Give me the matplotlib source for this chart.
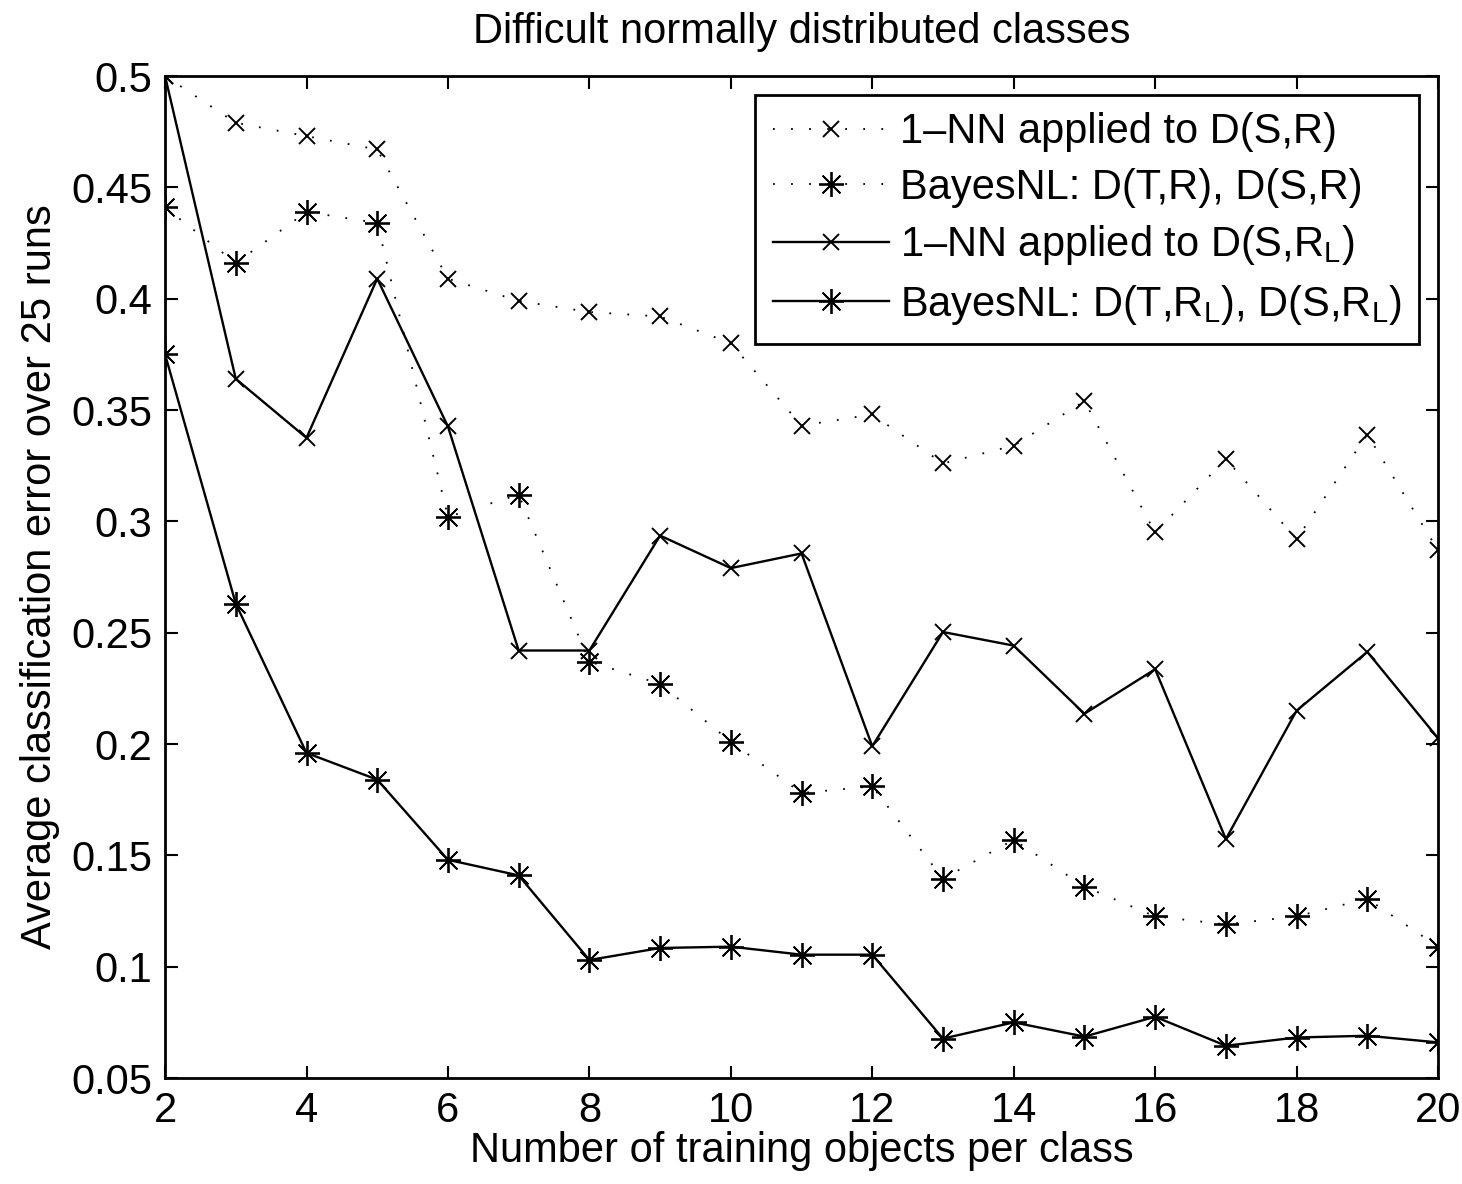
import matplotlib
matplotlib.use("Agg")
import matplotlib.pyplot as plt

# Number of training objects per class
n_train = [2, 3, 4, 5, 6, 7, 8, 9, 10, 11, 12, 13, 14, 15, 16, 17, 18, 19, 20]

# Average classification error over 25 runs
nn_dsr = [0.500, 0.479, 0.473, 0.467, 0.409, 0.399, 0.394, 0.392, 0.380, 0.343,
          0.348, 0.326, 0.334, 0.354, 0.295, 0.328, 0.292, 0.339, 0.287]
bayes_dsr = [0.441, 0.416, 0.439, 0.434, 0.302, 0.312, 0.237, 0.227, 0.201, 0.178,
             0.181, 0.1395, 0.157, 0.136, 0.1226, 0.119, 0.1226, 0.1305, 0.109]
nn_dsrl = [0.500, 0.364, 0.3375, 0.409, 0.3426, 0.242, 0.242, 0.2936, 0.279, 0.2856,
           0.199, 0.2503, 0.2442, 0.2136, 0.2336, 0.1573, 0.215, 0.2414, 0.2026]
bayes_dsrl = [0.375, 0.263, 0.196, 0.184, 0.148, 0.141, 0.103, 0.1084, 0.109, 0.1054,
              0.1054, 0.0677, 0.075, 0.0686, 0.0775, 0.0645, 0.0682, 0.069, 0.066]

labels = [
    "1\u2013NN applied to D(S,R)",
    "BayesNL: D(T,R), D(S,R)",
    "1\u2013NN applied to D(S,R$_{\\mathrm{L}}$)",
    "BayesNL: D(T,R$_{\\mathrm{L}}$), D(S,R$_{\\mathrm{L}}$)",
]

x_ticks = [2, 4, 6, 8, 10, 12, 14, 16, 18, 20]
y_ticks = [0.05, 0.1, 0.15, 0.2, 0.25, 0.3, 0.35, 0.4, 0.45, 0.5]
y_ticklabels = ["0.05", "0.1", "0.15", "0.2", "0.25", "0.3", "0.35", "0.4", "0.45", "0.5"]

plt.rcParams["font.family"] = ["Liberation Sans", "DejaVu Sans"]
plt.rcParams["mathtext.fontset"] = "custom"
plt.rcParams["mathtext.rm"] = "Liberation Sans"
plt.rcParams["mathtext.it"] = "Liberation Sans:italic"
plt.rcParams["mathtext.bf"] = "Liberation Sans:bold"

FS = 30
fig = plt.figure(figsize=(14.62, 11.84), dpi=100)
ax = fig.add_axes([0.1129, 0.0895, 0.9836 - 0.1129, 0.9358 - 0.0895])

dotted = (0, (1, 9))
star = (8, 2, 0)
ax.plot(n_train, nn_dsr, color="black", linestyle=dotted, linewidth=1.3,
        marker="x", markersize=12, markeredgewidth=1.4, label=labels[0])
ax.plot(n_train, bayes_dsr, color="black", linestyle=dotted, linewidth=1.3,
        marker=star, markersize=18, markeredgewidth=1.3, label=labels[1])
ax.plot(n_train, nn_dsrl, color="black", linestyle="-", linewidth=1.7,
        marker="x", markersize=12, markeredgewidth=1.4, label=labels[2])
ax.plot(n_train, bayes_dsrl, color="black", linestyle="-", linewidth=1.7,
        marker=star, markersize=18, markeredgewidth=1.3, label=labels[3])

ax.set_xlim(2, 20)
ax.set_ylim(0.05, 0.5)
ax.set_xticks(x_ticks)
ax.set_xticklabels([str(t) for t in x_ticks])
ax.set_yticks(y_ticks)
ax.set_yticklabels(y_ticklabels)
ax.tick_params(direction="in", length=9, width=1.5, labelsize=FS,
               top=True, right=True, pad=9)
for sp in ax.spines.values():
    sp.set_linewidth(2.0)

ax.set_title("Difficult normally distributed classes", fontsize=FS, pad=24)
ax.set_xlabel("Number of training objects per class", fontsize=FS, labelpad=0)
ax.set_ylabel("Average classification error over 25 runs", fontsize=FS, labelpad=8)

leg = ax.legend(loc="upper right", fontsize=FS, frameon=True, fancybox=False,
                edgecolor="black", framealpha=1, borderaxespad=0.45,
                handlelength=2.8, handletextpad=0.25, labelspacing=0.37,
                borderpad=0.42)
leg.get_frame().set_linewidth(2.0)

fig.savefig("out.png", dpi=100)
